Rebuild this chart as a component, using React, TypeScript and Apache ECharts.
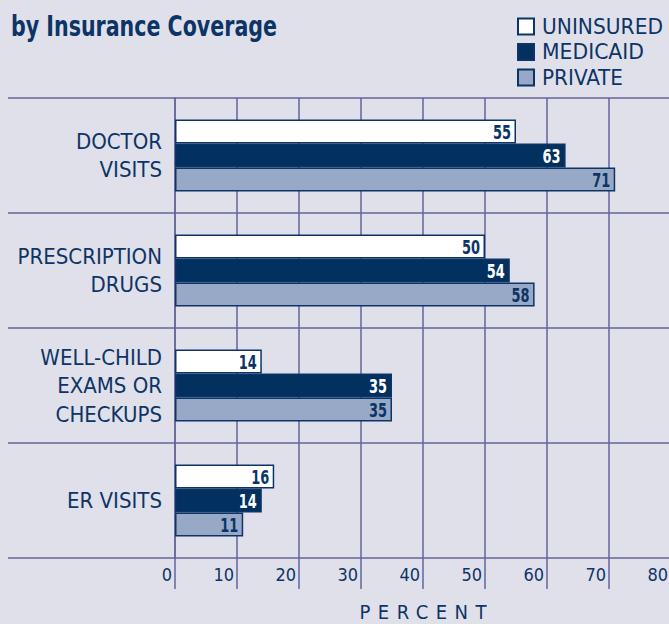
import React, { useEffect, useRef } from "react";
import * as echarts from "echarts";

const categories = [
  "DOCTOR\nVISITS",
  "PRESCRIPTION\nDRUGS",
  "WELL-CHILD\nEXAMS OR\nCHECKUPS",
  "ER VISITS",
];
const uninsured = [55, 50, 14, 16];
const medicaid = [63, 54, 35, 14];
const privateIns = [71, 58, 35, 11];
const seriesNames = ["UNINSURED", "MEDICAID", "PRIVATE"];
const titleText = "by Insurance Coverage";
const axisName = "PERCENT";

const NAVY = "#0d3466";
const FILLS = ["#ffffff", "#02305f", "#98a9c8"];
const LABEL_COLORS = [NAVY, "#ffffff", NAVY];
const GRID = "#64649c";
const BG = "#e0e0ea";
const FONT = "'Liberation Sans Narrow', 'DejaVu Sans Condensed', sans-serif";

export default function App() {
  const ref = useRef<HTMLDivElement>(null);
  useEffect(() => {
    if (!ref.current) return;
    const chart = echarts.init(ref.current, null, { renderer: "svg" });
    const data = [uninsured, medicaid, privateIns];
    const option: any = {
      animation: false,
      backgroundColor: BG,
      title: {
        text: titleText,
        left: 6,
        top: 6,
        textStyle: { fontFamily: FONT, fontSize: 29, fontWeight: "bold", color: NAVY },
      },
      legend: {
        orient: "vertical",
        left: 517,
        top: 16,
        padding: 0,
        itemWidth: 16,
        itemHeight: 16,
        itemGap: 4.5,
        icon: "rect",
        data: seriesNames,
        textStyle: { fontFamily: FONT, fontSize: 21, color: NAVY, padding: [0, 0, 0, 3] },
      },
      grid: { left: 175, right: -2, top: 98, height: 460, outerBoundsMode: "none", containLabel: false },
      xAxis: {
        type: "value",
        min: 0,
        max: 80,
        interval: 10,
        name: axisName,
        nameLocation: "middle",
        nameGap: 45,
        nameTextStyle: { fontFamily: FONT, fontSize: 20, lineHeight: 18, color: NAVY },
        axisLine: { show: false },
        axisTick: { show: true, length: 31, lineStyle: { color: GRID, width: 1.5 } },
        splitLine: { show: true, lineStyle: { color: GRID, width: 1.5 } },
        axisLabel: {
          fontFamily: FONT,
          fontSize: 18,
          color: NAVY,
          align: "right",
          verticalAlign: "middle",
          margin: 16,
          padding: [0, 3, 0, 0],
          showMaxLabel: true,
        },
      },
      yAxis: {
        type: "category",
        inverse: true,
        data: categories,
        axisLine: { show: true, lineStyle: { color: GRID, width: 1.5 } },
        axisTick: { show: true, length: 167, interval: 0, lineStyle: { color: GRID, width: 1.5 } },
        splitLine: { show: true, interval: 0, lineStyle: { color: GRID, width: 1.5 } },
        axisLabel: {
          fontFamily: FONT,
          fontSize: 22,
          lineHeight: 28.5,
          color: NAVY,
          align: "right",
          margin: 13,
          interval: 0,
        },
      },
      series: seriesNames.map((name, i) => ({
        name,
        type: "bar",
        data: data[i],
        barWidth: 24,
        barGap: "0%",
        itemStyle: { color: FILLS[i], borderColor: NAVY, borderWidth: 1.5 },
        label: {
          show: true,
          position: "insideRight",
          distance: 5,
          fontFamily: FONT,
          fontSize: 20,
          fontWeight: "bold",
          color: LABEL_COLORS[i],
        },
        emphasis: { disabled: true },
      })),
    };
    chart.setOption(option);

    // Condense / letter-space some texts to match the reference's narrow typeface.
    const targets: Record<string, [number, string]> = {
      [titleText]: [266, "spacingAndGlyphs"],
      UNINSURED: [121, "spacingAndGlyphs"],
      MEDICAID: [102, "spacingAndGlyphs"],
      PRIVATE: [81, "spacingAndGlyphs"],
      [axisName]: [127, "spacing"],
    };
    const fit = () => {
      const root = ref.current;
      if (!root) return;
      root.querySelectorAll("text").forEach((node) => {
        const t = node as SVGTextElement;
        if (t.dataset.fitted) return;
        const txt = (t.textContent || "").trim();
        const tg = targets[txt];
        if (tg) {
          t.setAttribute("textLength", String(tg[0]));
          t.setAttribute("lengthAdjust", tg[1]);
          t.dataset.fitted = "1";
          return;
        }
        const styleStr = (t.getAttribute("style") || "") + " " + (t.getAttribute("font-weight") || "");
        if (/^\d+$/.test(txt) && /bold/.test(styleStr)) {
          const w = t.getComputedTextLength();
          if (w > 0) {
            t.setAttribute("textLength", String(w * 0.72));
            t.setAttribute("lengthAdjust", "spacingAndGlyphs");
            t.dataset.fitted = "1";
          }
        }
      });
    };
    chart.on("finished", fit);
    fit();
    const raf = requestAnimationFrame(fit);
    const to = setTimeout(fit, 50);
    return () => {
      cancelAnimationFrame(raf);
      clearTimeout(to);
      chart.dispose();
    };
  }, []);
  return (
    <div
      ref={ref}
      style={{ position: "fixed", left: 0, top: 0, width: 669, height: 624, background: BG }}
    />
  );
}
